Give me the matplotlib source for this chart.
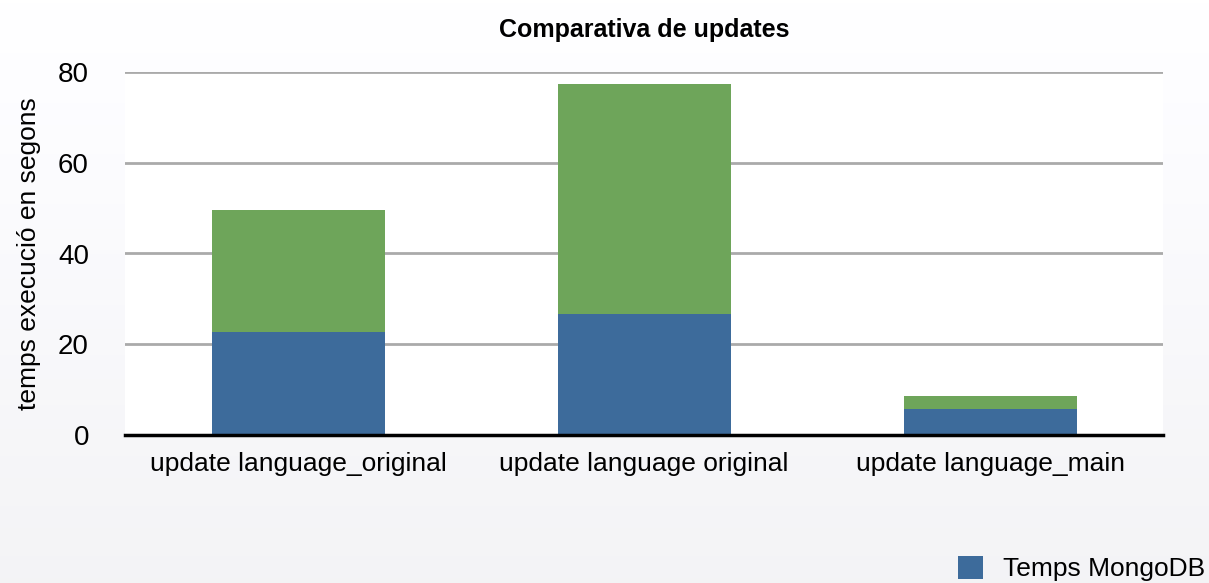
import matplotlib.pyplot as plt
import numpy as np

# dades llegides del gràfic
categories = ['update language_original', 'update language original', 'update language_main']
temps_mongodb = [22.7, 26.7, 5.7]
temps_resta = [26.9, 50.7, 2.9]   # part verda apilada a sobre
yticks = [0, 20, 40, 60, 80]

plt.rcParams['font.family'] = ['Liberation Sans', 'DejaVu Sans']

fig = plt.figure(figsize=(12.09, 5.83), dpi=100)
fig.patch.set_facecolor('white')
# fons lleugerament grisós a la part de baix
grad = np.linspace(1, 0.955, 100).reshape(-1, 1)
bg = fig.add_axes([0, 0, 1, 1], zorder=-10)
bg.imshow(np.dstack([grad * 1.0, grad * 1.0, grad * 1.01]).clip(0, 1),
          aspect='auto', extent=[0, 1, 0, 1], interpolation='bilinear')
bg.set_axis_off()

ax = fig.add_axes([125 / 1209, 1 - 435 / 583, (1163 - 125) / 1209, (435 - 72) / 583])
ax.set_facecolor('white')

x = np.arange(len(categories))
ax.bar(x, temps_mongodb, width=0.5, color='#3d6b9b', label='Temps MongoDB', zorder=3)
ax.bar(x, temps_resta, width=0.5, bottom=temps_mongodb, color='#6ea55a', zorder=3)

ax.set_xlim(-0.5, 2.5)
ax.set_ylim(0, 80)
ax.set_yticks(yticks)
ax.set_xticks(x)
ax.set_xticklabels(categories, fontsize=19)
ax.tick_params(axis='y', labelsize=20, length=0, pad=26)
ax.tick_params(axis='x', length=0, pad=12)
ax.yaxis.grid(True, color='#aaaaaa', linewidth=2, zorder=0)
ax.set_axisbelow(True)
for s in ['top', 'right', 'left']:
    ax.spines[s].set_visible(False)
ax.spines['bottom'].set_linewidth(2.5)
ax.spines['bottom'].set_color('black')
ax.spines['bottom'].set_zorder(4)

ax.set_ylabel('temps execució en segons', fontsize=19, labelpad=12)
ax.set_title('Comparativa de updates', fontsize=18, fontweight='bold', pad=25)

ax.legend(loc='upper left', bbox_to_anchor=(958 / 1209, 1 - 556 / 583),
          bbox_transform=fig.transFigure, frameon=False, fontsize=19,
          borderpad=0, borderaxespad=0,
          handlelength=0.95, handleheight=0.95, handletextpad=0.75)

fig.savefig('out.png', dpi=100)
